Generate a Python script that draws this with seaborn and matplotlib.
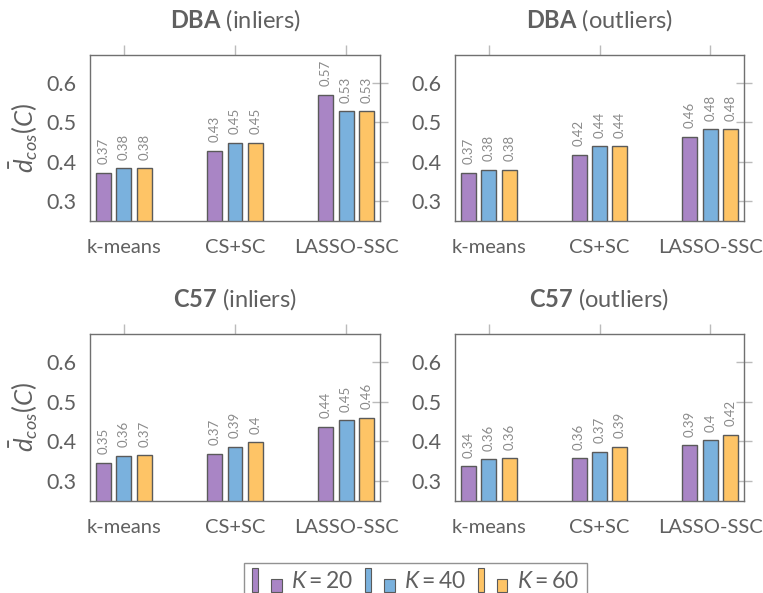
import matplotlib
matplotlib.use("Agg")
import matplotlib.pyplot as plt
from matplotlib.patches import Rectangle
from matplotlib.legend_handler import HandlerBase
import numpy as np
import pandas as pd
import seaborn as sns

methods = ["k-means", "CS+SC", "LASSO-SSC"]
k_values = [20, 40, 60]

# one row per K, one column per method
dba_inliers = [[0.372, 0.428, 0.570],
               [0.383, 0.448, 0.528],
               [0.383, 0.448, 0.528]]
dba_outliers = [[0.372, 0.4175, 0.463],
                [0.3795, 0.4386, 0.483],
                [0.380, 0.4386, 0.483]]
c57_inliers = [[0.346, 0.3687, 0.437],
               [0.3636, 0.3865, 0.4526],
               [0.366, 0.3975, 0.460]]
c57_outliers = [[0.337, 0.357, 0.3907],
                [0.356, 0.3737, 0.4025],
                [0.3585, 0.387, 0.417]]

panels = [("DBA", "inliers", dba_inliers), ("DBA", "outliers", dba_outliers),
          ("C57", "inliers", c57_inliers), ("C57", "outliers", c57_outliers)]

colors = ["#A985C5", "#7AB1DD", "#FEC466"]
edge = "#5a5a5a"
txt = "#606060"
font = "Lato"

sns.set_style("white")
plt.rcParams["font.family"] = [font, "DejaVu Sans"]
plt.rcParams["mathtext.fontset"] = "custom"
plt.rcParams["mathtext.rm"] = font
plt.rcParams["mathtext.it"] = font + ":italic"
plt.rcParams["mathtext.bf"] = font + ":bold"

fig = plt.figure(figsize=(7.63, 5.93), dpi=100)
W, H = 763, 593
boxes = [(90, 55, 380, 221), (455, 55, 744, 221),
         (90, 334, 380, 501), (455, 334, 744, 501)]

for (name, part, vals), (x0, y0, x1, y1) in zip(panels, boxes):
    ax = fig.add_axes([x0 / W, 1 - y1 / H, (x1 - x0) / W, (y1 - y0) / H])
    df = pd.DataFrame({
        "method": methods * 3,
        "K": np.repeat(k_values, 3),
        "value": np.ravel(vals),
    })
    sns.barplot(data=df, x="method", y="value", hue="K", palette=colors,
                width=0.555, gap=0.27, edgecolor=edge, linewidth=1,
                ax=ax, legend=False, errorbar=None, saturation=1)
    for cont in ax.containers:
        labs = [f"{round(b.get_height(), 2):g}" for b in cont]
        ax.bar_label(cont, labels=labs, rotation=90, padding=6,
                     fontsize=9.5, color="#8a8a8a")
    ax.set_ylim(0.25, 0.67)
    ax.set_xlim(-0.306, 2.306)
    ax.set_yticks([0.3, 0.4, 0.5, 0.6])
    ax.set_xlabel("")
    ax.set_ylabel("")
    ax.tick_params(axis="x", direction="out", top=True, length=7, width=1,
                   color="#bbbbbb", labelsize=14.5, labelcolor=txt, pad=6)
    ax.tick_params(axis="y", direction="inout", right=True, length=11, width=1,
                   color="#bbbbbb", labelsize=15.5, labelcolor=txt, pad=4)
    for s in ax.spines.values():
        s.set_color("#707070")
        s.set_linewidth(1)
    ax.set_title(rf"$\mathbf{{{name}}}$ ({part})", fontsize=17, color=txt, pad=20)
    if x0 < 100:
        ax.set_ylabel(r"$\bar{d}_{cos}(C)$", fontsize=18.5, color=txt, labelpad=5)


class TwoBars(HandlerBase):
    def create_artists(self, legend, orig_handle, xdescent, ydescent,
                       width, height, fontsize, trans):
        fc = orig_handle.get_facecolor()
        y = -ydescent - 0.25 * height
        tall = Rectangle((-xdescent, y), 0.2 * width, 1.5 * height,
                         facecolor=fc, edgecolor=edge, lw=0.8, transform=trans)
        short = Rectangle((-xdescent + 0.64 * width, y), 0.36 * width, 0.85 * height,
                          facecolor=fc, edgecolor=edge, lw=0.8, transform=trans)
        return [tall, short]


handles = [Rectangle((0, 0), 1, 1, facecolor=c) for c in colors]
labels = [rf"$K = {k}$" for k in k_values]
leg = fig.legend(handles, labels, loc="upper center", ncol=3,
                 bbox_to_anchor=(415.5 / W, 1 - 552 / H), fontsize=16.5,
                 handler_map={Rectangle: TwoBars()}, handlelength=1.3,
                 handletextpad=0.4, columnspacing=0.5, frameon=True,
                 fancybox=False, borderpad=0.35, labelcolor=txt)
leg.get_frame().set_edgecolor("#777777")
leg.get_frame().set_linewidth(1)

fig.savefig("out.png", dpi=100)
